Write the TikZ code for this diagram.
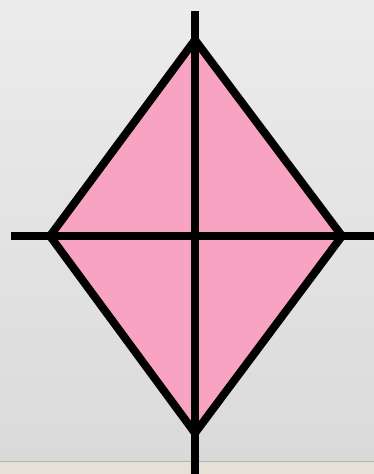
\documentclass[tikz,border=0pt]{standalone}
\definecolor{bgtop}{RGB}{236,236,236}
\definecolor{bgbot}{RGB}{218,218,218}
\definecolor{strip}{RGB}{230,225,215}
\definecolor{stripline}{RGB}{180,180,172}
\definecolor{kitepink}{RGB}{248,163,193}
\begin{document}
\begin{tikzpicture}[x=1pt,y=-1pt,
  edge/.style={line width=8pt,black},
  axis/.style={line width=7.5pt,black}]
\useasboundingbox (0,0) rectangle (374,474);
\shade[top color=bgtop,bottom color=bgbot] (0,0) rectangle (374,461);
\fill[strip] (0,461) rectangle (374,474);
\draw[stripline,line width=1pt] (0,461) -- (374,461);
\coordinate (T) at (195,40);
\coordinate (L) at (50,236);
\coordinate (R) at (342,236);
\coordinate (B) at (195,433);
\coordinate (vt) at (195,11);
\coordinate (vb) at (195,474);
\coordinate (hl) at (11,236);
\coordinate (hr) at (374,236);
\fill[kitepink] (T) -- (R) -- (B) -- (L) -- cycle;
\draw[axis] (vt) -- (vb);
\draw[axis] (hl) -- (hr);
\draw[edge,line join=miter] (T) -- (R) -- (B) -- (L) -- cycle;
\end{tikzpicture}
\end{document}
